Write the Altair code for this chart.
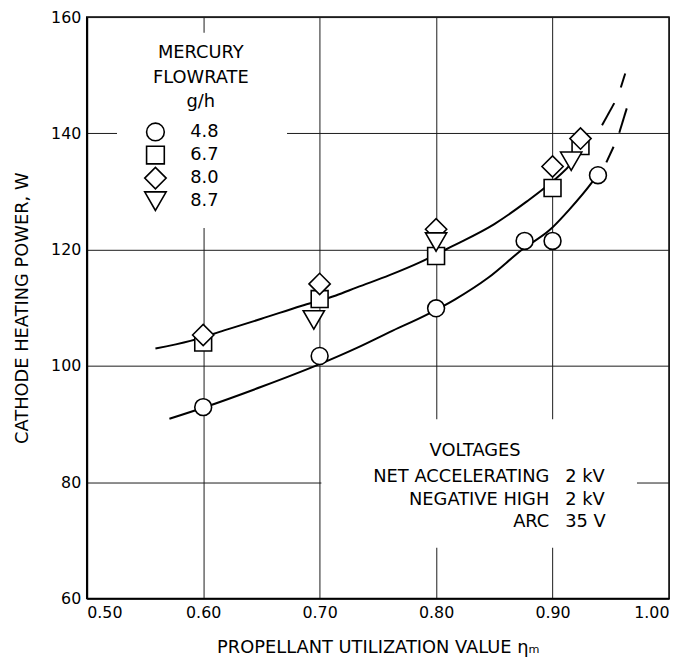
import altair as alt
import pandas as pd

# ---------------- data ----------------
flow_rates = ["4.8", "6.7", "8.0", "8.7"]
flow_shapes = ["circle", "square", "diamond", "triangle-down"]

circle_x = [0.600, 0.700, 0.800, 0.876, 0.900, 0.939]
circle_y = [92.9, 101.7, 109.9, 121.5, 121.5, 132.8]
square_x = [0.600, 0.700, 0.800, 0.900, 0.924]
square_y = [104.0, 111.5, 118.9, 130.6, 137.8]
diamond_x = [0.600, 0.700, 0.800, 0.900, 0.924]
diamond_y = [105.3, 114.1, 123.5, 134.3, 139.1]
triangle_x = [0.695, 0.800, 0.916]
triangle_y = [107.9, 121.3, 135.2]

# faired curves (solid parts)
lower_x = [0.571, 0.600, 0.650, 0.700, 0.732, 0.760, 0.793, 0.816, 0.845, 0.8745, 0.8977, 0.914, 0.934, 0.939]
lower_y = [90.9, 92.8, 96.4, 100.3, 103.1, 105.8, 108.9, 111.4, 115.2, 120.1, 123.4, 126.8, 131.6, 133.0]
upper_x = [0.559, 0.589, 0.618, 0.650, 0.684, 0.714, 0.732, 0.760, 0.786, 0.814, 0.850, 0.878, 0.893, 0.916, 0.930]
upper_y = [103.0, 104.3, 106.1, 108.1, 110.3, 112.1, 113.5, 115.6, 117.8, 120.6, 124.4, 128.3, 130.6, 134.8, 138.6]
# dashed extrapolations (each dash)
lower_dash1_x = [0.9462, 0.9524]
lower_dash1_y = [135.0, 137.7]
lower_dash2_x = [0.9573, 0.9637]
lower_dash2_y = [140.1, 144.3]
upper_dash1_x = [0.9425, 0.9530]
upper_dash1_y = [141.4, 145.2]
upper_dash2_x = [0.9586, 0.9624]
upper_dash2_y = [147.9, 150.3]

x_ticks = [0.50, 0.60, 0.70, 0.80, 0.90, 1.00]
y_ticks = [60, 80, 100, 120, 140, 160]

# legend block (placed in data coordinates)
legend_title = ["MERCURY", "FLOWRATE", "g/h"]
legend_title_x = 0.598
legend_title_top = 153.75
legend_title_step = 4.15
legend_symbol_x = 0.559
legend_label_x = 0.5888
legend_row_top = 140.24
legend_row_step = 3.97
legend_box = (0.526, 0.672, 123.7, 157.3)

volt_head = "VOLTAGES"
volt_labels = ["NET ACCELERATING", "NEGATIVE HIGH", "ARC"]
volt_values = ["2 kV", "2 kV", "35 V"]
volt_head_pos = (0.8335, 85.4)
volt_label_x = 0.8972
volt_value_x = 0.9108
volt_rows_y = [80.9, 77.0, 73.1]
volt_box = (0.7015, 0.9725, 68.7, 90.8)

# ---------------- tables ----------------
pts = pd.concat([
    pd.DataFrame({"x": circle_x, "y": circle_y, "flow": "4.8"}),
    pd.DataFrame({"x": square_x, "y": square_y, "flow": "6.7"}),
    pd.DataFrame({"x": diamond_x, "y": diamond_y, "flow": "8.0"}),
    pd.DataFrame({"x": triangle_x, "y": triangle_y, "flow": "8.7"}),
], ignore_index=True)
small = ["4.8", "6.7"]
pts_small = pts[pts["flow"].isin(small)]
pts_big = pts[~pts["flow"].isin(small)]

leg_rows = pd.DataFrame({
    "flow": flow_rates,
    "x": legend_symbol_x,
    "lx": legend_label_x,
    "y": [legend_row_top - i * legend_row_step for i in range(len(flow_rates))],
})
leg_small = leg_rows[leg_rows["flow"].isin(small)]
leg_big = leg_rows[~leg_rows["flow"].isin(small)]
leg_title = pd.DataFrame({
    "x": legend_title_x,
    "y": [legend_title_top - i * legend_title_step for i in range(len(legend_title))],
    "t": legend_title,
})

segs = []
for name, xs_, ys_ in [
    ("lower", lower_x, lower_y), ("upper", upper_x, upper_y),
    ("ld1", lower_dash1_x, lower_dash1_y), ("ld2", lower_dash2_x, lower_dash2_y),
    ("ud1", upper_dash1_x, upper_dash1_y), ("ud2", upper_dash2_x, upper_dash2_y),
]:
    segs.append(pd.DataFrame({"x": xs_, "y": ys_, "seg": name, "i": range(len(xs_))}))
curves = pd.concat(segs, ignore_index=True)

mask = pd.DataFrame({
    "x0": [volt_box[0], legend_box[0]], "x1": [volt_box[1], legend_box[1]],
    "y0": [volt_box[2], legend_box[2]], "y1": [volt_box[3], legend_box[3]],
})
head_df = pd.DataFrame({"x": [volt_head_pos[0]], "y": [volt_head_pos[1]], "t": [volt_head]})
lab_df = pd.DataFrame({"x": volt_label_x, "y": volt_rows_y, "t": volt_labels})
val_df = pd.DataFrame({"x": volt_value_x, "y": volt_rows_y, "t": volt_values})

# ---------------- chart ----------------
FONT = "DejaVu Sans"
xs = alt.Scale(domain=[0.5, 1.0], nice=False, zero=False)
ys = alt.Scale(domain=[60, 160], nice=False, zero=False)
xaxis = alt.Axis(values=x_ticks, format=".2f", title="PROPELLANT UTILIZATION VALUE  ηₘ",
                 grid=True, labelFlush=True, ticks=False, labelPadding=6, titlePadding=19)
yaxis = alt.Axis(values=y_ticks, format="d", title="CATHODE HEATING POWER, W",
                 grid=True, ticks=False, labelPadding=6, titlePadding=19)


def X(f):
    return alt.X(f, type="quantitative", scale=xs, axis=xaxis)


def Y(f):
    return alt.Y(f, type="quantitative", scale=ys, axis=yaxis)


shape_enc = alt.Shape("flow:N", scale=alt.Scale(domain=flow_rates, range=flow_shapes), legend=None)

masks = alt.Chart(mask).mark_rect(fill="white", strokeWidth=0).encode(
    x=X("x0"), x2="x1", y=Y("y0"), y2="y1")

solid = curves[curves["seg"].isin(["lower", "upper"])]
dashes = curves[~curves["seg"].isin(["lower", "upper"])]
lines = alt.Chart(solid).mark_line(color="black", strokeWidth=2, interpolate="monotone").encode(
    x=X("x"), y=Y("y"), detail="seg:N", order="i:Q")
dash_lines = alt.Chart(dashes).mark_line(color="black", strokeWidth=2).encode(
    x=X("x"), y=Y("y"), detail="seg:N", order="i:Q")

PT = dict(filled=True, fill="white", stroke="black", strokeWidth=1.6, opacity=1)
points_small = alt.Chart(pts_small).mark_point(size=290, **PT).encode(
    x=X("x"), y=Y("y"), shape=shape_enc)
points_big = alt.Chart(pts_big).mark_point(size=460, **PT).encode(
    x=X("x"), y=Y("y"), shape=shape_enc)
leg_pts_small = alt.Chart(leg_small).mark_point(size=320, **PT).encode(
    x=X("x"), y=Y("y"), shape=shape_enc)
leg_pts_big = alt.Chart(leg_big).mark_point(size=470, **PT).encode(
    x=X("x"), y=Y("y"), shape=shape_enc)

TXT = dict(font=FONT, fontSize=18, color="black", baseline="middle")
leg_labels = alt.Chart(leg_rows).mark_text(align="left", **TXT).encode(
    x=X("lx"), y=Y("y"), text="flow:N")
leg_head = alt.Chart(leg_title).mark_text(align="center", **TXT).encode(
    x=X("x"), y=Y("y"), text="t:N")
head = alt.Chart(head_df).mark_text(align="center", **TXT).encode(x=X("x"), y=Y("y"), text="t:N")
labs = alt.Chart(lab_df).mark_text(align="right", **TXT).encode(x=X("x"), y=Y("y"), text="t:N")
vals = alt.Chart(val_df).mark_text(align="left", **TXT).encode(x=X("x"), y=Y("y"), text="t:N")

chart = alt.layer(
    masks, lines, dash_lines, points_small, points_big,
    leg_pts_small, leg_pts_big, leg_labels, leg_head, head, labs, vals,
).properties(
    width=588, height=587,
    autosize=alt.AutoSizeParams(type="none"),
    padding={"left": 79.5, "top": 6, "right": 1, "bottom": 56},
    background="white",
).configure_view(stroke="black", strokeWidth=1.5).configure_axis(
    gridColor="#1a1a1a", gridWidth=1, gridOpacity=1,
    domainColor="black", domainWidth=2,
    labelColor="black", titleColor="black",
    labelFont=FONT, titleFont=FONT, labelFontSize=16, titleFontSize=18,
    titleFontWeight="normal",
)

chart.save("out.html", embed_options={"renderer": "svg", "actions": False})
